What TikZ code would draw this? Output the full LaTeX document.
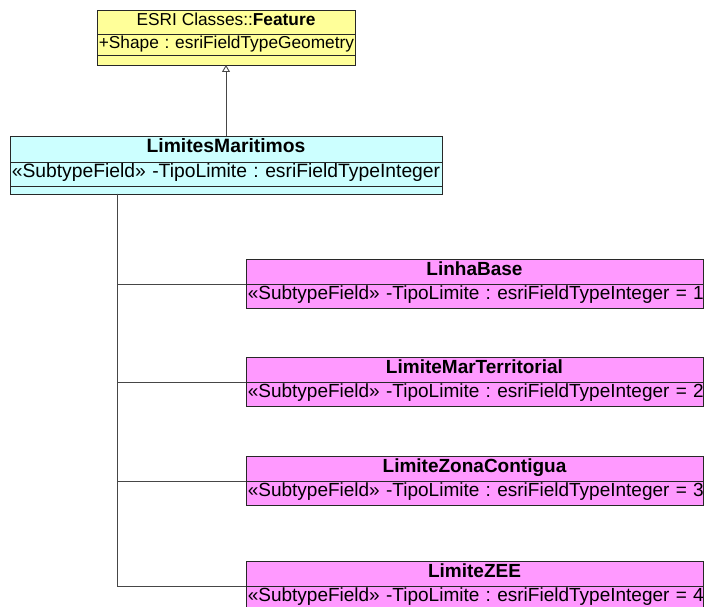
\documentclass[tikz,border=0pt]{standalone}
\usepackage{fontspec}
\setmainfont{Liberation Sans}
\usetikzlibrary{arrows.meta}
\frenchspacing

\definecolor{featfill}{RGB}{255,255,153}
\definecolor{basefill}{RGB}{204,255,255}
\definecolor{subfill}{RGB}{255,153,255}
\definecolor{edgecol}{RGB}{40,40,40}
\definecolor{linkcol}{RGB}{70,70,70}

\tikzset{
  % caps are centred in each compartment
  cell/.style={draw=edgecol, line width=0.9pt, inner xsep=1.8pt, inner ysep=0pt,
    outer sep=0pt, anchor=north west, text height=0.716em, text depth=0em},
  % compartments of ESRI Classes::Feature
  feathead/.style={cell, fill=featfill, minimum width=258pt, minimum height=24pt,
    font=\fontsize{17.3}{20}\selectfont},
  featrow/.style={cell, fill=featfill, text width=254.4pt, align=left,
    font=\fontsize{17.3}{20}\selectfont},
  % compartments of LimitesMaritimos
  basehead/.style={cell, fill=basefill, minimum width=432pt, minimum height=26pt,
    font=\fontsize{19.3}{22}\bfseries\selectfont},
  baserow/.style={cell, fill=basefill, text width=428.4pt, align=left,
    font=\fontsize{19.3}{22}\selectfont},
  % compartments of the subtypes
  subhead/.style={cell, fill=subfill, minimum width=457pt, minimum height=25pt,
    font=\fontsize{19}{22}\bfseries\selectfont},
  subrow/.style={cell, fill=subfill, text width=453.4pt, align=left, minimum height=24pt,
    font=\fontsize{19}{22}\selectfont},
  generalization/.style={draw=linkcol, line width=0.9pt,
    -{Triangle[open, width=8pt, length=7pt, fill=white]}},
  link/.style={draw=linkcol, line width=0.9pt},
}

\begin{document}
\begin{tikzpicture}[x=1pt, y=-1pt]
\useasboundingbox (0,0) rectangle (705,607);
\clip (0,0) rectangle (705,607);

% ESRI Classes::Feature
\node[feathead] (feat) at (97,10) {ESRI Classes::\textbf{Feature}};
\node[featrow, minimum height=21pt] (featattr) at (feat.south west) {\mbox{+Shape : esriFieldTypeGeometry}};
\node[featrow, minimum height=10pt] (featops) at (featattr.south west) {};

% LimitesMaritimos
\node[basehead] (lm) at (10,136) {LimitesMaritimos};
\node[baserow, minimum height=24pt] (lmattr) at (lm.south west) {\mbox{«SubtypeField» -TipoLimite : esriFieldTypeInteger}};
\node[baserow, minimum height=8pt] (lmops) at (lmattr.south west) {};

% subtypes
\node[subhead] (lb) at (246,259) {LinhaBase};
\node[subrow] (lbattr) at (lb.south west) {\mbox{«SubtypeField» -TipoLimite : esriFieldTypeInteger = 1}};

\node[subhead] (lmt) at (246,357) {LimiteMarTerritorial};
\node[subrow] (lmtattr) at (lmt.south west) {\mbox{«SubtypeField» -TipoLimite : esriFieldTypeInteger = 2}};

\node[subhead] (lzc) at (246,456) {LimiteZonaContigua};
\node[subrow] (lzcattr) at (lzc.south west) {\mbox{«SubtypeField» -TipoLimite : esriFieldTypeInteger = 3}};

\node[subhead] (zee) at (246,561) {LimiteZEE};
\node[subrow] (zeeattr) at (zee.south west) {\mbox{«SubtypeField» -TipoLimite : esriFieldTypeInteger = 4}};

% generalization to Feature
\draw[generalization] (lm.north) -- (featops.south);

% subtype tree
\coordinate (trunk) at (117,194);
\draw[link] (trunk) |- (zee.south west);
\draw[link] (trunk) |- (lb.south west);
\draw[link] (trunk) |- (lmt.south west);
\draw[link] (trunk) |- (lzc.south west);
\end{tikzpicture}
\end{document}
